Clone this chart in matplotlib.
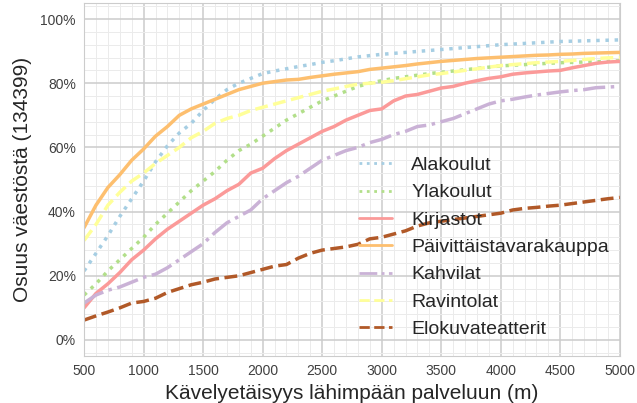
import matplotlib
matplotlib.use("Agg")
import matplotlib.pyplot as plt
from matplotlib.ticker import MultipleLocator, PercentFormatter
import seaborn as sns

# walking distance to nearest service (m)
dist = list(range(500, 5001, 100))

alakoulut = [.215, .27, .325, .385, .44, .495, .555, .605, .645, .675, .715, .75, .78, .80, .815, .83,
             .838, .845, .852, .858, .865, .87, .876, .882, .886, .89, .893, .896, .899, .902, .905,
             .908, .911, .914, .917, .92, .922, .924, .926, .928, .93, .931, .932, .933, .934, .935]
ylakoulut = [.14, .175, .215, .25, .285, .32, .36, .395, .43, .465, .495, .525, .56, .59, .61, .635,
             .66, .685, .705, .725, .745, .76, .775, .79, .80, .808, .815, .82, .825, .83, .834,
             .838, .842, .846, .85, .854, .856, .858, .86, .862, .864, .865, .866, .867, .868, .87]
kirjastot = [.10, .145, .175, .21, .25, .28, .315, .345, .37, .395, .42, .44, .465, .485, .52, .535,
             .565, .59, .61, .63, .65, .665, .685, .70, .715, .72, .745, .76, .765, .775, .785,
             .79, .80, .808, .815, .82, .828, .832, .835, .838, .84, .848, .855, .862, .866, .868]
kaupat = [.35, .42, .475, .515, .56, .595, .635, .665, .70, .72, .735, .75, .765, .78, .79, .80,
          .805, .81, .812, .818, .823, .828, .832, .836, .843, .847, .851, .855, .86, .864, .868,
          .871, .874, .877, .879, .881, .883, .885, .887, .888, .89, .891, .893, .894, .895, .896]
kahvilat = [.115, .14, .155, .165, .18, .195, .205, .225, .25, .275, .30, .335, .365, .385, .405, .44,
            .465, .49, .51, .535, .56, .575, .59, .60, .615, .625, .64, .65, .665, .67, .68,
            .69, .705, .72, .735, .745, .75, .757, .763, .768, .773, .777, .78, .786, .788, .79]
ravintolat = [.31, .36, .42, .46, .495, .52, .55, .575, .60, .63, .65, .675, .69, .70, .715, .725,
              .735, .745, .755, .765, .775, .782, .79, .797, .80, .803, .808, .814, .82, .826, .83,
              .835, .84, .845, .85, .855, .858, .861, .864, .866, .868, .871, .874, .877, .879, .88]
elokuva = [.062, .075, .087, .10, .115, .12, .13, .148, .16, .172, .18, .19, .195, .20, .21, .22,
           .23, .235, .255, .27, .28, .285, .29, .298, .315, .32, .33, .34, .355, .365, .37,
           .375, .38, .385, .39, .395, .405, .41, .413, .417, .42, .425, .43, .435, .44, .444]

series = [
    ("Alakoulut", alakoulut, ":"),
    ("Ylakoulut", ylakoulut, ":"),
    ("Kirjastot", kirjastot, "-"),
    ("Päivittäistavarakauppa", kaupat, "-"),
    ("Kahvilat", kahvilat, "-."),
    ("Ravintolat", ravintolat, "--"),
    ("Elokuvateatterit", elokuva, "--"),
]
colors = ["#a6cee3", "#b2df8a", "#fb9a99", "#fdbf6f", "#cab2d6", "#ffff99", "#b15928"]

sns.set_style("whitegrid")
plt.rcParams["font.family"] = ["Liberation Sans", "DejaVu Sans"]
plt.rcParams["text.color"] = ".15"

fig = plt.figure(figsize=(6.37, 4.03), dpi=100)
ax = fig.add_axes([0.132, 0.1166, 0.841, 0.876])

for (name, vals, ls), c in zip(series, colors):
    ax.plot(dist, vals, ls, color=c, lw=2.5, label=name)

ax.set_xlim(500, 5000)
ax.set_ylim(-0.05, 1.05)
ax.xaxis.set_major_locator(MultipleLocator(500))
ax.xaxis.set_minor_locator(MultipleLocator(100))
ax.yaxis.set_major_locator(MultipleLocator(0.2))
ax.yaxis.set_minor_locator(MultipleLocator(0.04))
ax.yaxis.set_major_formatter(PercentFormatter(1.0, decimals=0))
ax.grid(which="major", color=".8", lw=1.1)
ax.grid(which="minor", color=".92", lw=0.7)
ax.tick_params(labelsize=10, colors=".25", length=0, pad=6)
for s in ax.spines.values():
    s.set_color(".8")

ax.set_xlabel("Kävelyetäisyys lähimpään palveluun (m)", fontsize=15, color=".15", labelpad=4)
ax.set_ylabel("Osuus väestöstä (134399)", fontsize=15, color=".15", labelpad=6)

leg = ax.legend(loc="upper left", bbox_to_anchor=(0.48, 0.615), frameon=False, fontsize=14,
                handlelength=1.7, handletextpad=1.0, labelspacing=0.5)
for h in leg.get_lines():
    h.set_linewidth(2.0)

fig.savefig("out.png", dpi=100)
